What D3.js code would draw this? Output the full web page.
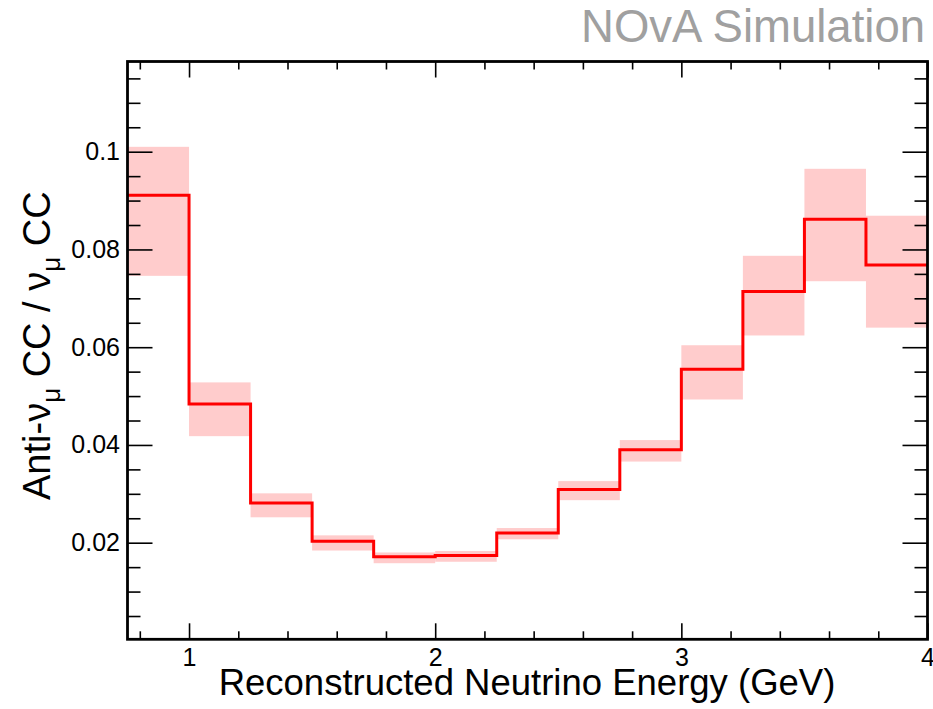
<!DOCTYPE html>
<html>
<head>
<meta charset="utf-8">
<script src="https://cdn.jsdelivr.net/npm/d3@7"></script>
<style>
  html, body { margin: 0; padding: 0; background: #fff; }
  svg { display: block; font-family: "Liberation Sans", Arial, Helvetica, sans-serif; }
</style>
</head>
<body>
<svg id="chart" width="933" height="709"></svg>
<script>
// ---- Data ----
const binEdges = [0.75, 1.0, 1.25, 1.5, 1.75, 2.0, 2.25, 2.5, 2.75, 3.0, 3.25, 3.5, 3.75, 4.0];
const ratioValues = [0.0911, 0.0484, 0.0281, 0.0203, 0.0171, 0.0174, 0.0220, 0.0309, 0.0390, 0.0555, 0.0714, 0.0862, 0.0768];
const bandHigh   = [0.1010, 0.0528, 0.0301, 0.0215, 0.0180, 0.0183, 0.0230, 0.0326, 0.0410, 0.0604, 0.0787, 0.0965, 0.0869];
const bandLow    = [0.0746, 0.0418, 0.0252, 0.0184, 0.0158, 0.0161, 0.0207, 0.0287, 0.0366, 0.0493, 0.0624, 0.0735, 0.0640];
const xTickValues = [1, 2, 3, 4];
const xTickLabels = ["1", "2", "3", "4"];
const yTickValues = [0.02, 0.04, 0.06, 0.08, 0.1];
const yTickLabels = ["0.02", "0.04", "0.06", "0.08", "0.1"];
const xDomain = [0.75, 4.0];
const yDomain = [0.000235, 0.118455];

// ---- Layout ----
const svg = d3.select("#chart");
const L = 127.5, T = 61.5, R = 927.5, B = 639.3;

const x = d3.scaleLinear().domain(xDomain).range([L, R]);
const y = d3.scaleLinear().domain(yDomain).range([B, T]);

const bins = ratioValues.map((v, i) => ({
  x0: binEdges[i], x1: binEdges[i + 1], v, hi: bandHigh[i], lo: bandLow[i]
}));

// error band
svg.append("g").selectAll("rect").data(bins).join("rect")
  .attr("x", d => x(d.x0))
  .attr("width", d => x(d.x1) - x(d.x0))
  .attr("y", d => y(d.hi))
  .attr("height", d => y(d.lo) - y(d.hi))
  .attr("fill", "#ffcccc");

// step line
const stepPts = bins.map(d => [d.x0, d.v]).concat([[binEdges[binEdges.length - 1], ratioValues[ratioValues.length - 1]]]);
const line = d3.line().x(d => x(d[0])).y(d => y(d[1])).curve(d3.curveStepAfter);
svg.append("path").datum(stepPts)
  .attr("d", line)
  .attr("fill", "none")
  .attr("stroke", "#ff0000")
  .attr("stroke-width", 3)
  .attr("stroke-linejoin", "miter")
  .attr("stroke-linecap", "butt");

// ---- Axes (ROOT style: ticks inward on all four sides) ----
const xMinor = d3.range(0.8, 4.0001, 0.2).filter(v => !xTickValues.some(t => Math.abs(t - v) < 1e-6));
const yMinor = d3.range(0.005, 0.1184, 0.005).filter(v => !yTickValues.some(t => Math.abs(t - v) < 1e-6));

function fmtX(d) { return xTickLabels[xTickValues.indexOf(d)] || ""; }
function fmtY(d) { const i = yTickValues.findIndex(t => Math.abs(t - d) < 1e-9); return i >= 0 ? yTickLabels[i] : ""; }

function styleAxis(g) {
  g.select(".domain").remove();
  g.attr("font-family", null).attr("font-size", null);
  g.selectAll("line").attr("stroke", "#000").attr("stroke-width", 1.6);
  g.selectAll("text").attr("fill", "#000").attr("font-size", 25);
}

// bottom
svg.append("g").attr("transform", `translate(0,${B})`)
  .call(d3.axisBottom(x).tickValues(xTickValues).tickSize(-16).tickPadding(9).tickFormat(fmtX))
  .call(styleAxis);
svg.append("g").attr("transform", `translate(0,${B})`)
  .call(d3.axisBottom(x).tickValues(xMinor).tickSize(-8).tickFormat(""))
  .call(styleAxis);
// top
svg.append("g").attr("transform", `translate(0,${T})`)
  .call(d3.axisTop(x).tickValues(xTickValues).tickSize(-16).tickFormat(""))
  .call(styleAxis);
svg.append("g").attr("transform", `translate(0,${T})`)
  .call(d3.axisTop(x).tickValues(xMinor).tickSize(-8).tickFormat(""))
  .call(styleAxis);
// left
svg.append("g").attr("transform", `translate(${L},0)`)
  .call(d3.axisLeft(y).tickValues(yTickValues).tickSize(-25).tickPadding(7.5).tickFormat(fmtY))
  .call(styleAxis);
svg.append("g").attr("transform", `translate(${L},0)`)
  .call(d3.axisLeft(y).tickValues(yMinor).tickSize(-13).tickFormat(""))
  .call(styleAxis);
// right
svg.append("g").attr("transform", `translate(${R},0)`)
  .call(d3.axisRight(y).tickValues(yTickValues).tickSize(-25).tickFormat(""))
  .call(styleAxis);
svg.append("g").attr("transform", `translate(${R},0)`)
  .call(d3.axisRight(y).tickValues(yMinor).tickSize(-13).tickFormat(""))
  .call(styleAxis);

// frame
svg.append("rect")
  .attr("x", L).attr("y", T).attr("width", R - L).attr("height", B - T)
  .attr("fill", "none").attr("stroke", "#000").attr("stroke-width", 2.8);

// ---- Titles ----
svg.append("text")
  .attr("x", 925).attr("y", 42)
  .attr("text-anchor", "end")
  .attr("font-size", 45.5)
  .attr("fill", "#a0a0a0")
  .text("NOvA Simulation");

svg.append("text")
  .attr("x", 527).attr("y", 695)
  .attr("text-anchor", "middle")
  .attr("font-size", 36.5)
  .attr("fill", "#000")
  .text("Reconstructed Neutrino Energy (GeV)");

const yt = svg.append("text")
  .attr("transform", "translate(50,500) rotate(-90)")
  .attr("text-anchor", "start")
  .attr("font-size", 38)
  .attr("fill", "#000");
yt.append("tspan").text("Anti-ν");
yt.append("tspan").attr("font-size", 26).attr("dy", 10).text("μ");
yt.append("tspan").attr("dy", -10).text(" CC / ν");
yt.append("tspan").attr("font-size", 26).attr("dy", 10).text("μ");
yt.append("tspan").attr("dy", -10).text(" CC");
</script>
</body>
</html>
